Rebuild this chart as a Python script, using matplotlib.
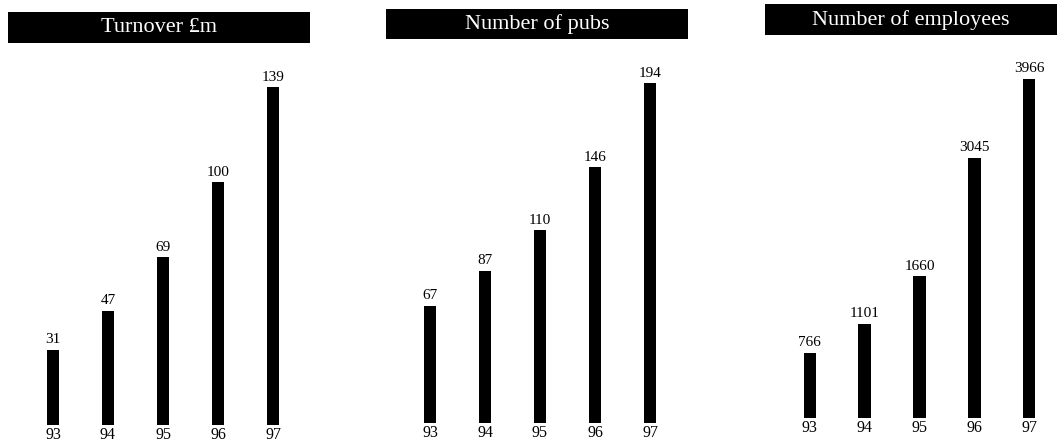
import matplotlib
matplotlib.use("Agg")
import matplotlib.pyplot as plt
from matplotlib.patches import Rectangle

years = ["93", "94", "95", "96", "97"]
turnover = [31, 47, 69, 100, 139]
pubs = [67, 87, 110, 146, 194]
employees = [766, 1101, 1660, 3045, 3966]

titles = ["Turnover £m", "Number of pubs", "Number of employees"]
series = [turnover, pubs, employees]

W, H = 1058, 444
fig = plt.figure(figsize=(W / 100, H / 100), dpi=100)
fig.patch.set_facecolor("white")
plt.rcParams["font.family"] = ["Liberation Serif", "DejaVu Serif"]

# panel layout in pixels: (left, baseline from top, width, ymax, height of ymax)
panels = [
    (25.5, 425, 275, 150, 150 * 2.43),
    (402.5, 423, 275, 210, 210 * 1.75),
    (782.5, 418, 274, 4300, 4300 * 0.0855),
]
# title boxes in pixels: (x0, y0, x1, y1) measured from top-left
boxes = [(8, 12, 310, 43), (386, 9, 688, 39), (765, 4, 1057, 35)]

for (left, base, width, ymax, hpx), title, vals, box in zip(panels, titles, series, boxes):
    ax = fig.add_axes([left / W, (H - base) / H, width / W, hpx / H])
    x = range(len(years))
    ax.bar(x, vals, width=0.23, color="black")
    ax.set_xlim(-0.5, len(years) - 0.5)
    ax.set_ylim(0, ymax)
    ax.axis("off")
    for xi, v in zip(x, vals):
        ax.annotate(str(v), (xi, v), xytext=(0, 2.5), textcoords="offset points",
                    ha="center", va="bottom", fontsize=11, color="black")
        ax.annotate(years[xi], (xi, 0), xytext=(0, -1.5), textcoords="offset points",
                    ha="center", va="top", fontsize=11.5, color="black")

    x0, y0, x1, y1 = box
    fig.patches.append(Rectangle((x0 / W, 1 - y1 / H), (x1 - x0) / W, (y1 - y0) / H,
                                 transform=fig.transFigure, facecolor="black",
                                 edgecolor="none"))
    fig.text((x0 + x1) / 2 / W, 1 - (y0 + y1 + 1) / 2 / H, title, color="white",
             ha="center", va="center", fontsize=16)

fig.savefig("out.png", dpi=100, facecolor="white")
